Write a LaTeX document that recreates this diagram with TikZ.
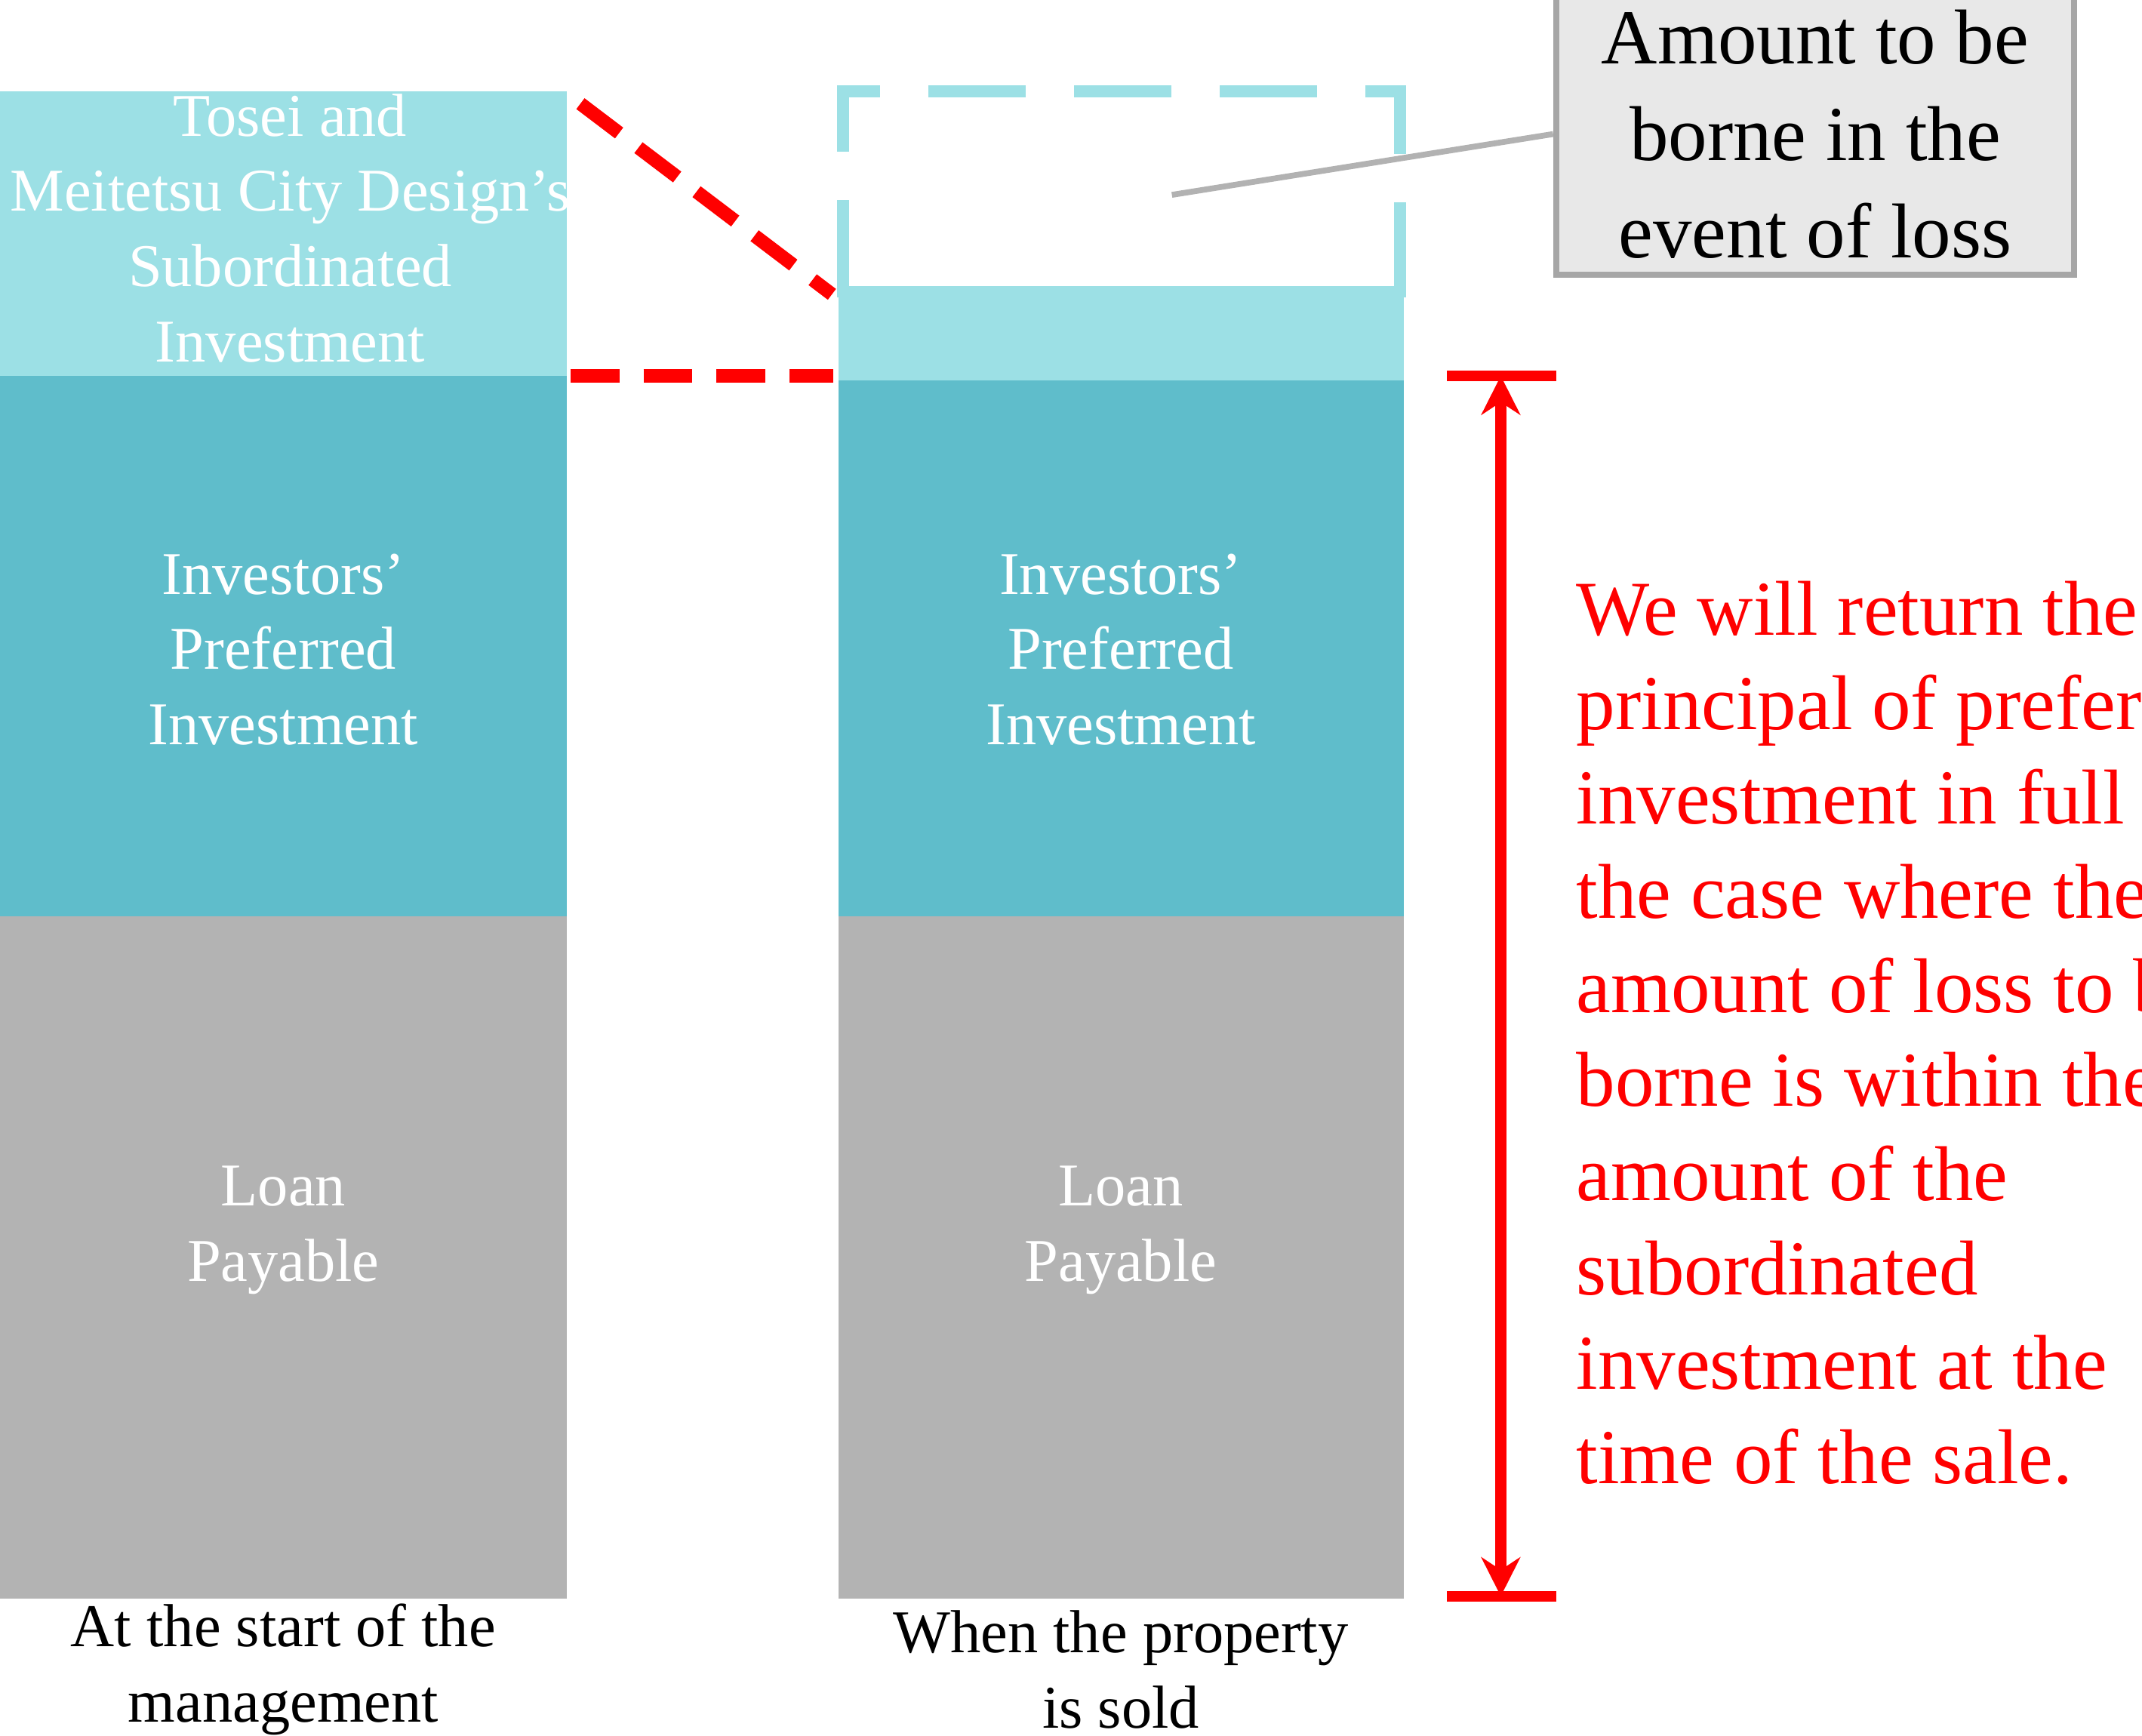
\documentclass[tikz,border=0pt]{standalone}
\usepackage{fontspec}
\setmainfont{Liberation Serif}
\usetikzlibrary{arrows.meta}
\definecolor{subcol}{HTML}{9CE0E5}
\definecolor{prefcol}{HTML}{5FBDCB}
\definecolor{loancol}{HTML}{B3B3B3}
\definecolor{boxcol}{HTML}{E8E8E8}
\tikzset{
    bartext/.style={text=white, align=center, font=\fontsize{12.5}{15.5}\selectfont},
    labeltext/.style={align=center, font=\fontsize{12.5}{15.5}\selectfont},
    redline/.style={red, line width=2.2pt}
}
\begin{document}
\begin{tikzpicture}[>=stealth, y=-1cm]
    \useasboundingbox (0,0) rectangle (15.5,12.56);
    % left bar
    \fill[subcol] (0,0.66) rectangle (4.1,2.72);
    \fill[prefcol] (0,2.72) rectangle (4.1,6.63);
    \fill[loancol] (0,6.63) rectangle (4.1,11.57);
    % right bar
    \fill[subcol] (6.07,2.07) rectangle (10.16,2.75);
    \fill[prefcol] (6.07,2.75) rectangle (10.16,6.63);
    \fill[loancol] (6.07,6.63) rectangle (10.16,11.57);
    \draw[subcol, line width=2.5pt, dash pattern=on 20pt off 10pt]
        (6.1,2.15)--(6.1,0.66)--(10.13,0.66)--(10.13,2.15);

    \node[bartext] (sub) at (2.1,1.65) {Tosei and\\Meitetsu City Design’s\\Subordinated\\Investment};
    \node[bartext] (prefL) at (2.05,4.7) {Investors’\\Preferred\\Investment};
    \node[bartext] (loanL) at (2.05,8.9) {Loan\\Payable};
    \node[bartext] (prefR) at (8.11,4.7) {Investors’\\Preferred\\Investment};
    \node[bartext] (loanR) at (8.11,8.9) {Loan\\Payable};

    \node[labeltext] (start) at (2.05,12.08) {At the start of the\\management};
    \node[labeltext] (sold) at (8.11,12.08) {When the property\\is sold};

    % red dashed guides
    \coordinate (d1) at (4.2,0.75); \coordinate (d2) at (6.02,2.13);
    \coordinate (d3) at (4.13,2.72); \coordinate (d4) at (6.03,2.72);
    \draw[redline, line width=2.8pt, dash pattern=on 10pt off 5pt] (d1)--(d2);
    \draw[redline, line width=2.8pt, dash pattern=on 10pt off 5pt] (d3)--(d4);

    % callout
    \node[draw=gray!70, line width=1.2pt, fill=boxcol, minimum width=3.75cm, minimum height=1.84cm, align=center,
        font=\fontsize{16}{20}\selectfont] (loss) at (13.135,0.97) {Amount to be\\borne in the\\event of loss};
    \coordinate (lossend) at (8.48,1.41);
    \draw[gray!60, line width=1.2pt] (lossend)--(loss.west|-0,0.97);

    % red range arrow
    \coordinate (top) at (10.86,2.72); \coordinate (bot) at (10.86,11.55);
    \draw[redline] (10.47,2.72)--(11.26,2.72);
    \draw[redline] (10.47,11.55)--(11.26,11.55);
    \draw[redline, {Stealth[length=8pt,width=8pt]}-{Stealth[length=8pt,width=8pt]}] (top)--(bot);

    \node[anchor=north west, text=red, align=left, inner sep=0pt, font=\fontsize{16}{19.4}\selectfont]
        (ret) at (11.4,4.2) {We will return the\\principal of preferred\\investment in full in\\the case where the\\amount of loss to be\\borne is within the\\amount of the\\subordinated\\investment at the\\time of the sale.};
\end{tikzpicture}
\end{document}
